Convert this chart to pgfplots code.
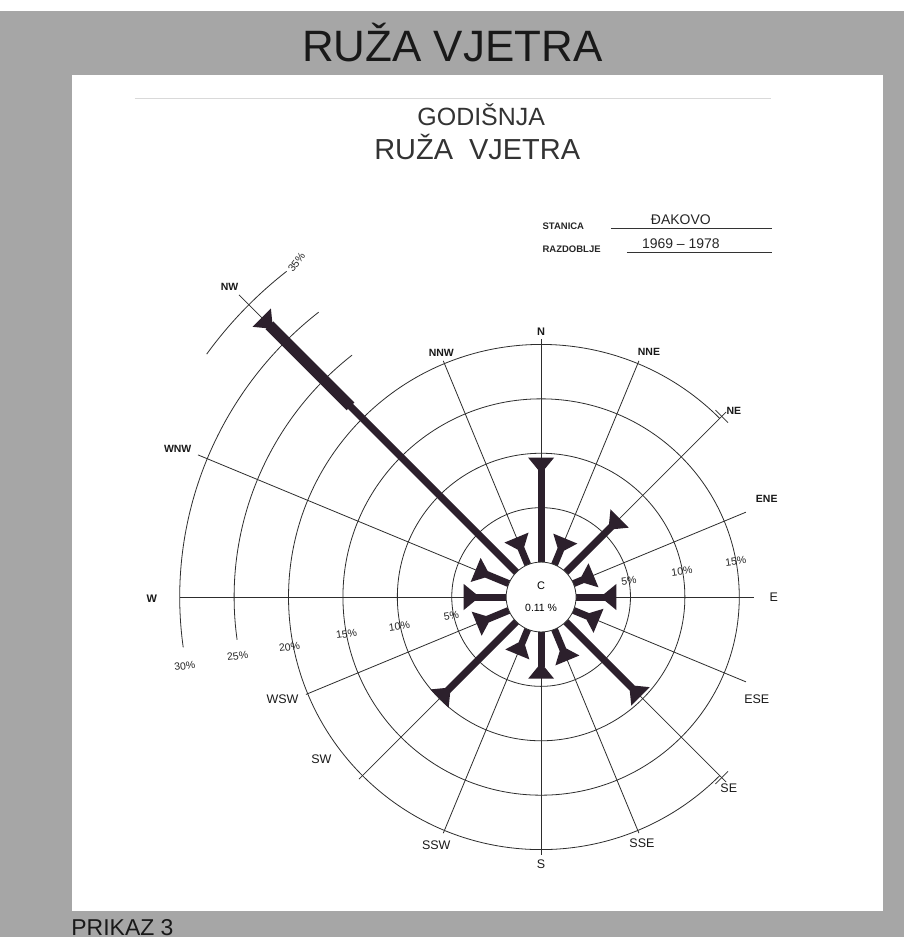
\documentclass[border=0pt]{standalone}
\usepackage{pgfplots}
\pgfplotsset{compat=1.18}
\usepackage{pgfplotstable}
\usepackage{fontspec}
\setmainfont{Liberation Sans}
\usetikzlibrary{arrows.meta}
\definecolor{bg}{RGB}{166,166,166}
\definecolor{ink}{RGB}{44,32,44}
\definecolor{gridc}{RGB}{45,45,45}

% bearing (deg, clockwise from N) and frequency (%)
\pgfplotstableread{
dir b p
N 0 9.6
NNE 22.5 2.6
NE 45 7.0
ENE 67.5 2.0
E 90 3.7
ESE 112.5 2.5
SE 135 9.7
SSE 157.5 3.1
S 180 4.3
SSW 202.5 2.5
SW 225 10.0
WSW 247.5 3.2
W 270 3.9
WNW 292.5 3.3
NW 315 33.1
NNW 337.5 2.7
}\rosedata

\begin{document}
\begin{tikzpicture}
% page
\fill[bg] (0pt,0pt) rectangle (905pt,-939pt);
\fill[white] (0pt,0pt) rectangle (905pt,-11pt);
\fill[white] (72pt,-75pt) rectangle (884pt,-913pt);
\draw[black!15, line width=1pt] (135pt,-99pt) -- (772pt,-99pt);
\node[font=\fontsize{44}{44}\selectfont, text=black!90] at (453pt,-43pt) {RUŽA VJETRA};
\node[anchor=base west, font=\fontsize{23}{23}\selectfont, text=black!90] at (68pt,-937pt) {PRIKAZ 3};
% scanned header
\node[font=\fontsize{25}{25}\selectfont, text=black!80] at (482pt,-115pt) {GODIŠNJA};
\node[font=\fontsize{29}{29}\selectfont, text=black!80] at (478pt,-147pt) {RUŽA\ \ VJETRA};
\node[anchor=base west, font=\bfseries\fontsize{9.5}{9.5}\selectfont, text=black!85] at (540pt,-230pt) {STANICA};
\node[anchor=base west, font=\bfseries\fontsize{9.5}{9.5}\selectfont, text=black!85] at (540pt,-253pt) {RAZDOBLJE};
\node[anchor=base, font=\fontsize{14}{14}\selectfont, text=black!85] at (682pt,-225pt) {ĐAKOVO};
\node[anchor=base, font=\fontsize{14}{14}\selectfont, text=black!85] at (682pt,-249pt) {1969 -- 1978};
\draw[black!80, line width=0.8pt] (612pt,-229pt) -- (773pt,-229pt);
\draw[black!80, line width=0.8pt] (628pt,-253pt) -- (773pt,-253pt);

% grid of the rose
\begin{scope}[shift={(542pt,-598pt)}, draw=gridc, line width=0.8pt]
\draw (0,0) circle (89.5pt);
\draw (0,0) circle (144pt);
\draw (0,0) circle (198.5pt);
\draw (45:253pt) arc[start angle=45, end angle=315, radius=253pt];
\draw (128:307.5pt) arc[start angle=128, end angle=188, radius=307.5pt];
\draw (128:362pt) arc[start angle=128, end angle=188, radius=362pt];
\draw (128:414pt) arc[start angle=128, end angle=144, radius=414pt];
\draw (43:256pt) -- (47:256pt);
\draw (-43:256pt) -- (-47:256pt);
% radial lines (math angle = 90 - bearing)
\draw (90:35pt) -- (90:258pt);
\draw (67.5:35pt) -- (67.5:256pt);
\draw (45:35pt) -- (45:262pt);
\draw (22.5:35pt) -- (22.5:222pt);
\draw (0:35pt) -- (0:213pt);
\draw (-22.5:35pt) -- (-22.5:222pt);
\draw (-45:35pt) -- (-45:262pt);
\draw (-67.5:35pt) -- (-67.5:256pt);
\draw (-90:35pt) -- (-90:258pt);
\draw (-112.5:35pt) -- (-112.5:256pt);
\draw (-135:35pt) -- (-135:258pt);
\draw (-157.5:35pt) -- (-157.5:255pt);
\draw (180:35pt) -- (180:362pt);
\draw (157.5:35pt) -- (157.5:372pt);
\draw (135:35pt) -- (135:428pt);
\draw (112.5:35pt) -- (112.5:256pt);
\end{scope}

\begin{axis}[at={(542pt,-598pt)}, anchor=origin, x=1pt, y=1pt,
  xmin=-542, xmax=363, ymin=-341, ymax=598, hide axis, clip=false]
\addplot[ink, line width=7pt,
  quiver={u={10.9*\thisrow{p}*sin(\thisrow{b})}, v={10.9*\thisrow{p}*cos(\thisrow{b})}},
  -{Triangle[reversed, width=25pt, length=16pt]}]
  table[x expr={35*sin(\thisrow{b})}, y expr={35*cos(\thisrow{b})}] {\rosedata};
\addplot[ink, line width=11pt, data cs=polar] coordinates {(135,270) (135,385)};
\end{axis}

% calm circle
\filldraw[fill=white, draw=gridc, line width=0.8pt] (542pt,-598pt) circle (35pt);
\node[font=\fontsize{11}{11}\selectfont] at (542pt,-587pt) {C};
\node[font=\fontsize{10.5}{10.5}\selectfont] at (542pt,-609pt) {0.11 \%};

% direction labels
\begin{scope}[every node/.style={font=\fontsize{12.5}{12.5}\selectfont, text=black!90}]
\node[font=\bfseries\fontsize{11}{11}\selectfont] at (542pt,-332pt) {N};
\node[font=\bfseries\fontsize{10.5}{10.5}\selectfont] at (650pt,-352pt) {NNE};
\node[font=\bfseries\fontsize{10.5}{10.5}\selectfont] at (735pt,-412pt) {NE};
\node[font=\bfseries\fontsize{10.5}{10.5}\selectfont] at (768pt,-500pt) {ENE};
\node at (775pt,-598pt) {E};
\node at (758pt,-700pt) {ESE};
\node at (730pt,-790pt) {SE};
\node at (643pt,-845pt) {SSE};
\node at (542pt,-866pt) {S};
\node at (437pt,-847pt) {SSW};
\node at (322pt,-760pt) {SW};
\node at (283pt,-700pt) {WSW};
\node[font=\bfseries\fontsize{11}{11}\selectfont] at (152pt,-600pt) {W};
\node[font=\bfseries\fontsize{10.5}{10.5}\selectfont] at (178pt,-450pt) {WNW};
\node[font=\bfseries\fontsize{10.5}{10.5}\selectfont] at (230pt,-287pt) {NW};
\node[font=\bfseries\fontsize{10.5}{10.5}\selectfont] at (442pt,-353pt) {NNW};
\end{scope}

% percent labels
\begin{scope}[every node/.style={font=\fontsize{10.5}{10.5}\selectfont, text=black!85, rotate=8}]
\node at (630pt,-582pt) {5\%};
\node at (683pt,-572pt) {10\%};
\node at (737pt,-562pt) {15\%};
\node at (452pt,-617pt) {5\%};
\node at (400pt,-627pt) {10\%};
\node at (347pt,-635pt) {15\%};
\node at (290pt,-648pt) {20\%};
\node at (238pt,-657pt) {25\%};
\node at (185pt,-667pt) {30\%};
\node[anchor=west, rotate=45, inner sep=1pt] at (290pt,-272pt) {35\%};
\end{scope}
\end{tikzpicture}
\end{document}
